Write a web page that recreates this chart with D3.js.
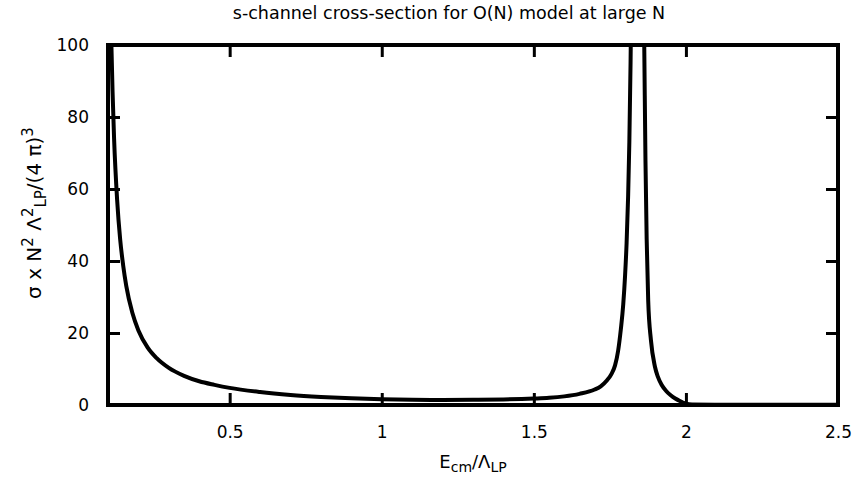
<!DOCTYPE html>
<html>
<head>
<meta charset="utf-8">
<script src="https://d3js.org/d3.v7.min.js"></script>
<style>
  html, body { margin: 0; padding: 0; background: #fff; }
  svg { display: block; }
  text { font-family: "DejaVu Sans", sans-serif; fill: #000; }
</style>
</head>
<body>
<script>
// ---- data ----
const energy = [0.100, 0.105, 0.110, 0.115, 0.120, 0.130, 0.140, 0.150, 0.160, 0.180, 0.200, 0.230, 0.260, 0.300, 0.350, 0.400, 0.450, 0.500, 0.600, 0.700, 0.800, 0.900, 1.000, 1.100, 1.200, 1.300, 1.400, 1.500, 1.550, 1.600, 1.650, 1.700, 1.720, 1.740, 1.755, 1.767, 1.777, 1.786, 1.794, 1.800, 1.805, 1.810, 1.814, 1.818, 1.822, 1.830, 1.840, 1.850, 1.857, 1.863, 1.867, 1.871, 1.876, 1.885, 1.898, 1.908, 1.920, 1.935, 1.950, 1.965, 1.980, 1.990, 2.000, 2.020, 2.100, 2.300, 2.500];
const sigma  = [167, 129, 104, 87, 74, 57, 46, 38.7, 33.1, 25.6, 20.7, 16.0, 13.0, 10.3, 8.1, 6.6, 5.6, 4.75, 3.6, 2.8, 2.25, 1.85, 1.6, 1.45, 1.4, 1.45, 1.55, 1.8, 2.0, 2.4, 3.1, 4.3, 5.2, 6.8, 8.6, 11, 15, 21, 28, 36, 45, 58, 73, 95, 125, 200, 300, 200, 140, 100, 68, 46, 29, 18, 10.7, 7.8, 5.6, 3.9, 2.7, 1.8, 1.1, 0.7, 0.4, 0.15, 0.1, 0.1, 0.1];
const xTickValues = [0.5, 1, 1.5, 2, 2.5];
const yTickValues = [0, 20, 40, 60, 80, 100];
const titleText = "s-channel cross-section for O(N) model at large N";

// ---- layout ----
const W = 857, H = 477;
const mL = 108, mR = 838, mT = 45, mB = 405;

const svg = d3.select("body").append("svg").attr("width", W).attr("height", H);

const x = d3.scaleLinear().domain([0.1, 2.5]).range([mL, mR]);
const y = d3.scaleLinear().domain([0, 100]).range([mB, mT]);

svg.append("defs").append("clipPath").attr("id", "clip")
  .append("rect").attr("x", mL).attr("y", mT).attr("width", mR - mL).attr("height", mB - mT);

// curve
const pts = energy.map((e, i) => [e, sigma[i]]);
svg.append("path")
  .attr("clip-path", "url(#clip)")
  .attr("d", d3.line().x(d => x(d[0])).y(d => y(d[1])).curve(d3.curveMonotoneX)(pts))
  .attr("fill", "none").attr("stroke", "#000").attr("stroke-width", 4).attr("stroke-linejoin", "round");

// ticks (inward on all four sides)
const tl = 12;
const axB = d3.axisBottom(x).tickValues(xTickValues).tickSize(-tl).tickFormat(d3.format("~g")).tickPadding(tl + 9);
const gB = svg.append("g").attr("transform", `translate(0,${mB})`).call(axB);
const axT = d3.axisTop(x).tickValues(xTickValues).tickSize(-tl).tickFormat("");
const gT = svg.append("g").attr("transform", `translate(0,${mT})`).call(axT);
const axL = d3.axisLeft(y).tickValues(yTickValues).tickSize(-tl).tickPadding(tl + 7);
const gL = svg.append("g").attr("transform", `translate(${mL},0)`).call(axL);
const axR = d3.axisRight(y).tickValues(yTickValues).tickSize(-tl).tickFormat("");
const gR = svg.append("g").attr("transform", `translate(${mR},0)`).call(axR);

[gB, gT, gL, gR].forEach(g => {
  g.select(".domain").remove();
  g.selectAll(".tick line").attr("stroke", "#000").attr("stroke-width", 3);
  g.selectAll(".tick text").attr("font-size", 17).attr("font-family", "DejaVu Sans, sans-serif").attr("fill", "#000");
});

// frame
svg.append("rect").attr("x", mL).attr("y", mT).attr("width", mR - mL).attr("height", mB - mT)
  .attr("fill", "none").attr("stroke", "#000").attr("stroke-width", 4);

// title
svg.append("text").attr("x", 449).attr("y", 19).attr("text-anchor", "middle").attr("font-size", 17.5).text(titleText);

// x label
const xl = svg.append("text").attr("x", (mL + mR) / 2).attr("y", 468).attr("text-anchor", "middle").attr("font-size", 18);
xl.append("tspan").text("E");
xl.append("tspan").attr("dy", 4).attr("font-size", 14).text("cm");
xl.append("tspan").attr("dy", -4).text("/Λ");
xl.append("tspan").attr("dy", 4).attr("font-size", 14).text("LP");

// y label
const yl = svg.append("text").attr("transform", `translate(41,213) rotate(-90)`)
  .attr("text-anchor", "middle").attr("font-size", 20);
yl.append("tspan").text("σ x N");
yl.append("tspan").attr("dy", -8).attr("font-size", 15).text("2");
yl.append("tspan").attr("dy", 8).text(" Λ");
yl.append("tspan").attr("dy", -8).attr("font-size", 15).text("2");
yl.append("tspan").attr("dy", 13).attr("font-size", 15).text("LP");
yl.append("tspan").attr("dy", -5).text("/(4 π)");
yl.append("tspan").attr("dy", -8).attr("font-size", 15).text("3");
</script>
</body>
</html>
